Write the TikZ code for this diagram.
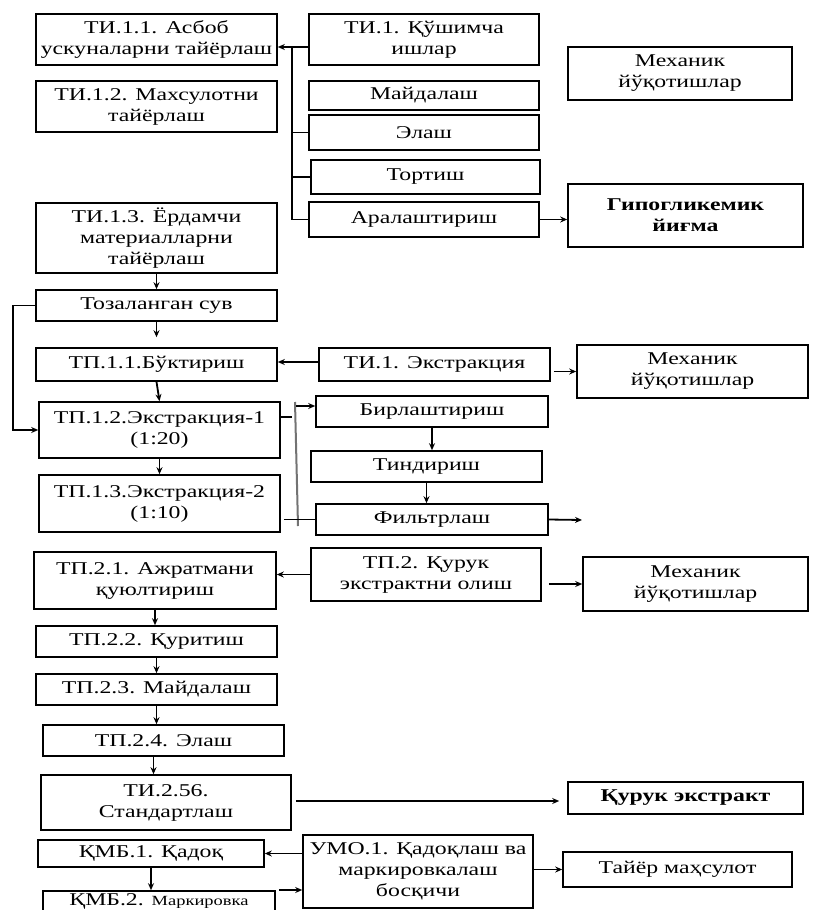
\documentclass[tikz,border=0pt]{standalone}
\usepackage{fontspec}
\setmainfont{Liberation Serif}[FakeStretch=1.32]
\usetikzlibrary{arrows.meta,calc}
\tikzset{
  box/.style={draw, line width=1.6pt, inner sep=1pt, align=center,
    font=\fontsize{18}{21}\selectfont},
  link/.style={line width=1.8pt},
  arr/.style={link, -{Stealth[length=7pt,width=6pt]}},
}
\newcommand{\bx}[6]{% name, cx, cy, width, height, text
  \node[box, minimum width=#4, minimum height=#5] (#1) at (#2,#3) {#6};}
\begin{document}
\begin{tikzpicture}[x=1pt,y=-1pt]
\useasboundingbox (0,0) rectangle (826,910);

% preparatory works
\bx{ti11}{156.5}{39.5}{241}{51}{ТИ.1.1. Асбоб\\ускуналарни тайёрлаш}
\bx{ti12}{156.5}{106.5}{241}{51}{ТИ.1.2. Махсулотни\\тайёрлаш}
\bx{ti1}{424}{39.5}{230}{51}{ТИ.1. Қўшимча\\ишлар}
\bx{mayd}{424}{95.5}{230}{29}{Майдалаш}
\bx{elash}{424}{132.5}{230}{35}{Элаш}
\bx{tort}{425.5}{177}{229}{34}{Тортиш}
\bx{aral}{424}{219.5}{230}{35}{Аралаштириш}
\bx{mex1}{680}{73.5}{224}{53}{Механик\\йўқотишлар}
\bx{gipo}{685.5}{215.5}{235}{63}{\bfseries Гипогликемик\\\bfseries йиғма}
\bx{ti13}{156.5}{238}{241}{70}{ТИ.1.3. Ёрдамчи\\материалларни\\тайёрлаш}
\bx{toz}{156.5}{305.5}{241}{31}{Тозаланган сув}

% extraction
\bx{tp11}{156.5}{364.5}{241}{33}{ТП.1.1.Бўктириш}
\bx{ti1e}{434.5}{364.5}{231}{33}{ТИ.1. Экстракция}
\bx{mex2}{692.5}{371.5}{231}{53}{Механик\\йўқотишлар}
\bx{tp12}{159.5}{430}{241}{56}{ТП.1.2.Экстракция-1\\(1:20)}
\bx{tp13}{159.5}{503.5}{241}{57}{ТП.1.3.Экстракция-2\\(1:10)}
\bx{birl}{432}{411.5}{232}{31}{Бирлаштириш}
\bx{tind}{426.5}{466.5}{231}{31}{Тиндириш}
\bx{filt}{432}{519.5}{232}{31}{Фильтрлаш}

% dry extract
\bx{tp21}{155}{580.5}{242}{57}{ТП.2.1. Ажратмани\\қуюлтириш}
\bx{tp2}{426}{574.5}{230}{53}{ТП.2. Қурук\\экстрактни олиш}
\bx{mex3}{695.5}{584}{225}{54}{Механик\\йўқотишлар}
\bx{tp22}{156.5}{641.5}{241}{31}{ТП.2.2. Қуритиш}
\bx{tp23}{156.5}{689.5}{241}{31}{ТП.2.3. Майдалаш}
\bx{tp24}{163.5}{740.5}{241}{31}{ТП.2.4. Элаш}
\bx{ti256}{166}{802.5}{250}{55}{ТИ.2.56.\\Стандартлаш}
\bx{quruk}{685.5}{798}{235}{32}{\bfseries Қурук экстракт}

% packing
\bx{qmb1}{151}{853.5}{226}{27}{ҚМБ.1. Қадоқ}
\bx{umo}{418}{871.5}{230}{73}{УМО.1. Қадоқлаш ва\\маркировкалаш\\босқичи}
\bx{qmb2}{159}{901}{232}{20}{ҚМБ.2. {\fontsize{14}{15}\selectfont Маркировка}}
\bx{tayor}{677.5}{869.5}{229}{35}{Тайёр маҳсулот}

% bus of the auxiliary works
\coordinate (bustop) at (292,47);
\draw[arr] (ti1.west |- bustop) -- (ti11.east |- bustop);
\draw[link] (bustop) |- (aral.west);
\draw[link] (bustop |- elash.west) -- (elash.west);
\draw[link] (bustop |- tort.west) -- (tort.west);
\draw[arr] (aral.east) -- (aral.east -| gipo.west);

% water line
\draw[arr] (ti13.south) -- (toz.north);
\draw[arr, shorten >=10pt] (toz.south) -- (tp11.north);
\draw[arr] (toz.west) -- ++(-22,0) |- (tp12.west);

% extraction links
\draw[arr] (ti1e.west |- 0,362) -- (tp11.east |- 0,362);
\draw[arr, shorten <=3pt] (mex2.west -| ti1e.east) -- (mex2.west);
\draw[arr] (tp11.south) -- (tp12.north);
\draw[arr] (tp12.south) -- (tp13.north);
\coordinate (brtop) at (295,402);
\coordinate (brbot) at (298,526);
\draw[line width=2pt, black!55] (brtop) -- (brbot);
\draw[link] ($(tp12.east)+(0,-13)$) -- (292,417);
\draw[arr] (296,406) -- ($(birl.west)+(0,-5.5)$);
\draw[link] ($(filt.west -| tp13.east)+(3,0)$) -- (filt.west);
\draw[arr] (birl.south) -- (birl.south |- tind.north);
\draw[arr] (tind.south) -- (tind.south |- filt.north);
\coordinate (filtout) at (582,520);
\draw[arr] (filt.east) -- (filtout);

% dry extract links
\draw[arr] (tp2.west) -- (tp2.west -| tp21.east);
\draw[arr, shorten <=7pt] (mex3.west -| tp2.east) -- (mex3.west);
\draw[arr] (tp21.south) -- (tp21.south |- tp22.north);
\draw[arr] (tp22.south) -- (tp22.south |- tp23.north);
\draw[arr] (tp23.south) -- (tp23.south |- tp24.north);
\coordinate (a24) at ($(tp24.south)+(-10,0)$);
\draw[arr] (a24) -- (a24 |- ti256.north);
\draw[arr, shorten <=4pt, shorten >=8pt] (ti256.east |- 0,801) -- (quruk.west |- 0,801);

% packing links
\draw[arr] (qmb1.east -| umo.west) -- (qmb1.east);
\draw[arr] (qmb1.south) -- (qmb1.south |- qmb2.north);
\draw[arr, shorten <=3pt] (qmb2.east |- 0,890) -- (umo.west |- 0,890);
\draw[arr] (tayor.west -| umo.east) -- (tayor.west);
\end{tikzpicture}
\end{document}
